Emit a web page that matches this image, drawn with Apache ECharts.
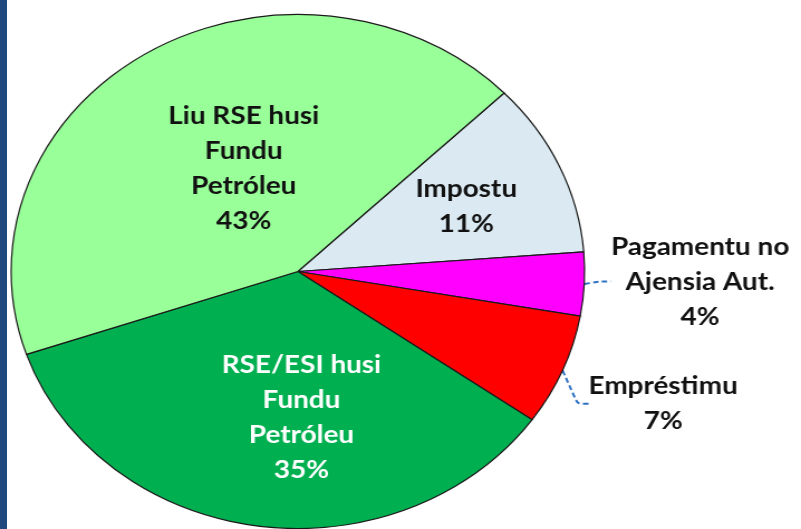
<!DOCTYPE html>
<html>
<head>
<meta charset="utf-8">
<script src="https://cdn.jsdelivr.net/npm/echarts@6/dist/echarts.min.js"></script>
<style>
  html, body { margin: 0; padding: 0; background: #ffffff; overflow: hidden; }
  #wrap { position: relative; width: 801px; height: 529px; overflow: hidden; background: #fff; }
  #strip { position: absolute; left: 0; top: 0; width: 7px; height: 529px; background: #1F497D; z-index: 2; }
  #chart { position: absolute; left: 0; top: 0; width: 718px; height: 529px; transform: scaleX(1.1156); transform-origin: 0 0; }
</style>
</head>
<body>
<div id="wrap">
  <div id="chart"></div>
  <div id="strip"></div>
</div>
<script>
// Data (clockwise order starting from upper right)
const categories = [
  'Impostu',
  'Pagamentu no\nAjensia Aut.',
  'Empréstimu',
  'RSE/ESI husi\nFundu\nPetróleu',
  'Liu RSE husi\nFundu\nPetróleu'
];
const values = [11, 4, 7, 35, 43];

const colors = ['#DBEAF2', '#FF00FF', '#FF0000', '#00B050', '#99FF99'];
const insideIdx = [0, 3, 4];
const insideShift = { 0: [31, -11], 3: [22, 16], 4: [20, 9] };
const outsideShift = { 1: [0, -3], 2: [0, 30] };

const chart = echarts.init(document.getElementById('chart'), null, { renderer: 'canvas' });

const data = categories.map((name, i) => {
  const inside = insideIdx.indexOf(i) >= 0;
  return {
    name: name,
    value: values[i],
    itemStyle: { color: colors[i] },
    label: {
      position: inside ? 'inside' : 'outside',
      color: i === 3 ? '#ffffff' : '#111111'
    },
    labelLine: { show: !inside }
  };
});

chart.setOption({
  backgroundColor: '#ffffff',
  animation: false,
  series: [{
    type: 'pie',
    center: [267, 271.5],
    radius: 257,
    startAngle: 44,
    clockwise: true,
    avoidLabelOverlap: false,
    itemStyle: { borderColor: '#1a1a1a', borderWidth: 1.2 },
    label: {
      show: true,
      fontFamily: 'Lato, "Open Sans", sans-serif',
      fontWeight: 'bold',
      fontSize: 25,
      lineHeight: 35,
      distanceToLabelLine: 5,
      formatter: function (p) { return p.name + '\n' + Math.round(p.percent) + '%'; }
    },
    labelLine: {
      length: 9,
      length2: 10,
      smooth: 0.2,
      lineStyle: { color: '#2E72C4', width: 2, type: [5, 3] }
    },
    labelLayout: function (params) {
      const i = params.dataIndex;
      if (insideShift[i]) {
        return { dx: insideShift[i][0], dy: insideShift[i][1] };
      }
      const s = outsideShift[i];
      const r = params.labelRect;
      return {
        x: r.x + r.width / 2 + s[0],
        y: r.y + r.height / 2 + s[1],
        align: 'center',
        verticalAlign: 'middle'
      };
    },
    data: data
  }]
});
</script>
</body>
</html>
